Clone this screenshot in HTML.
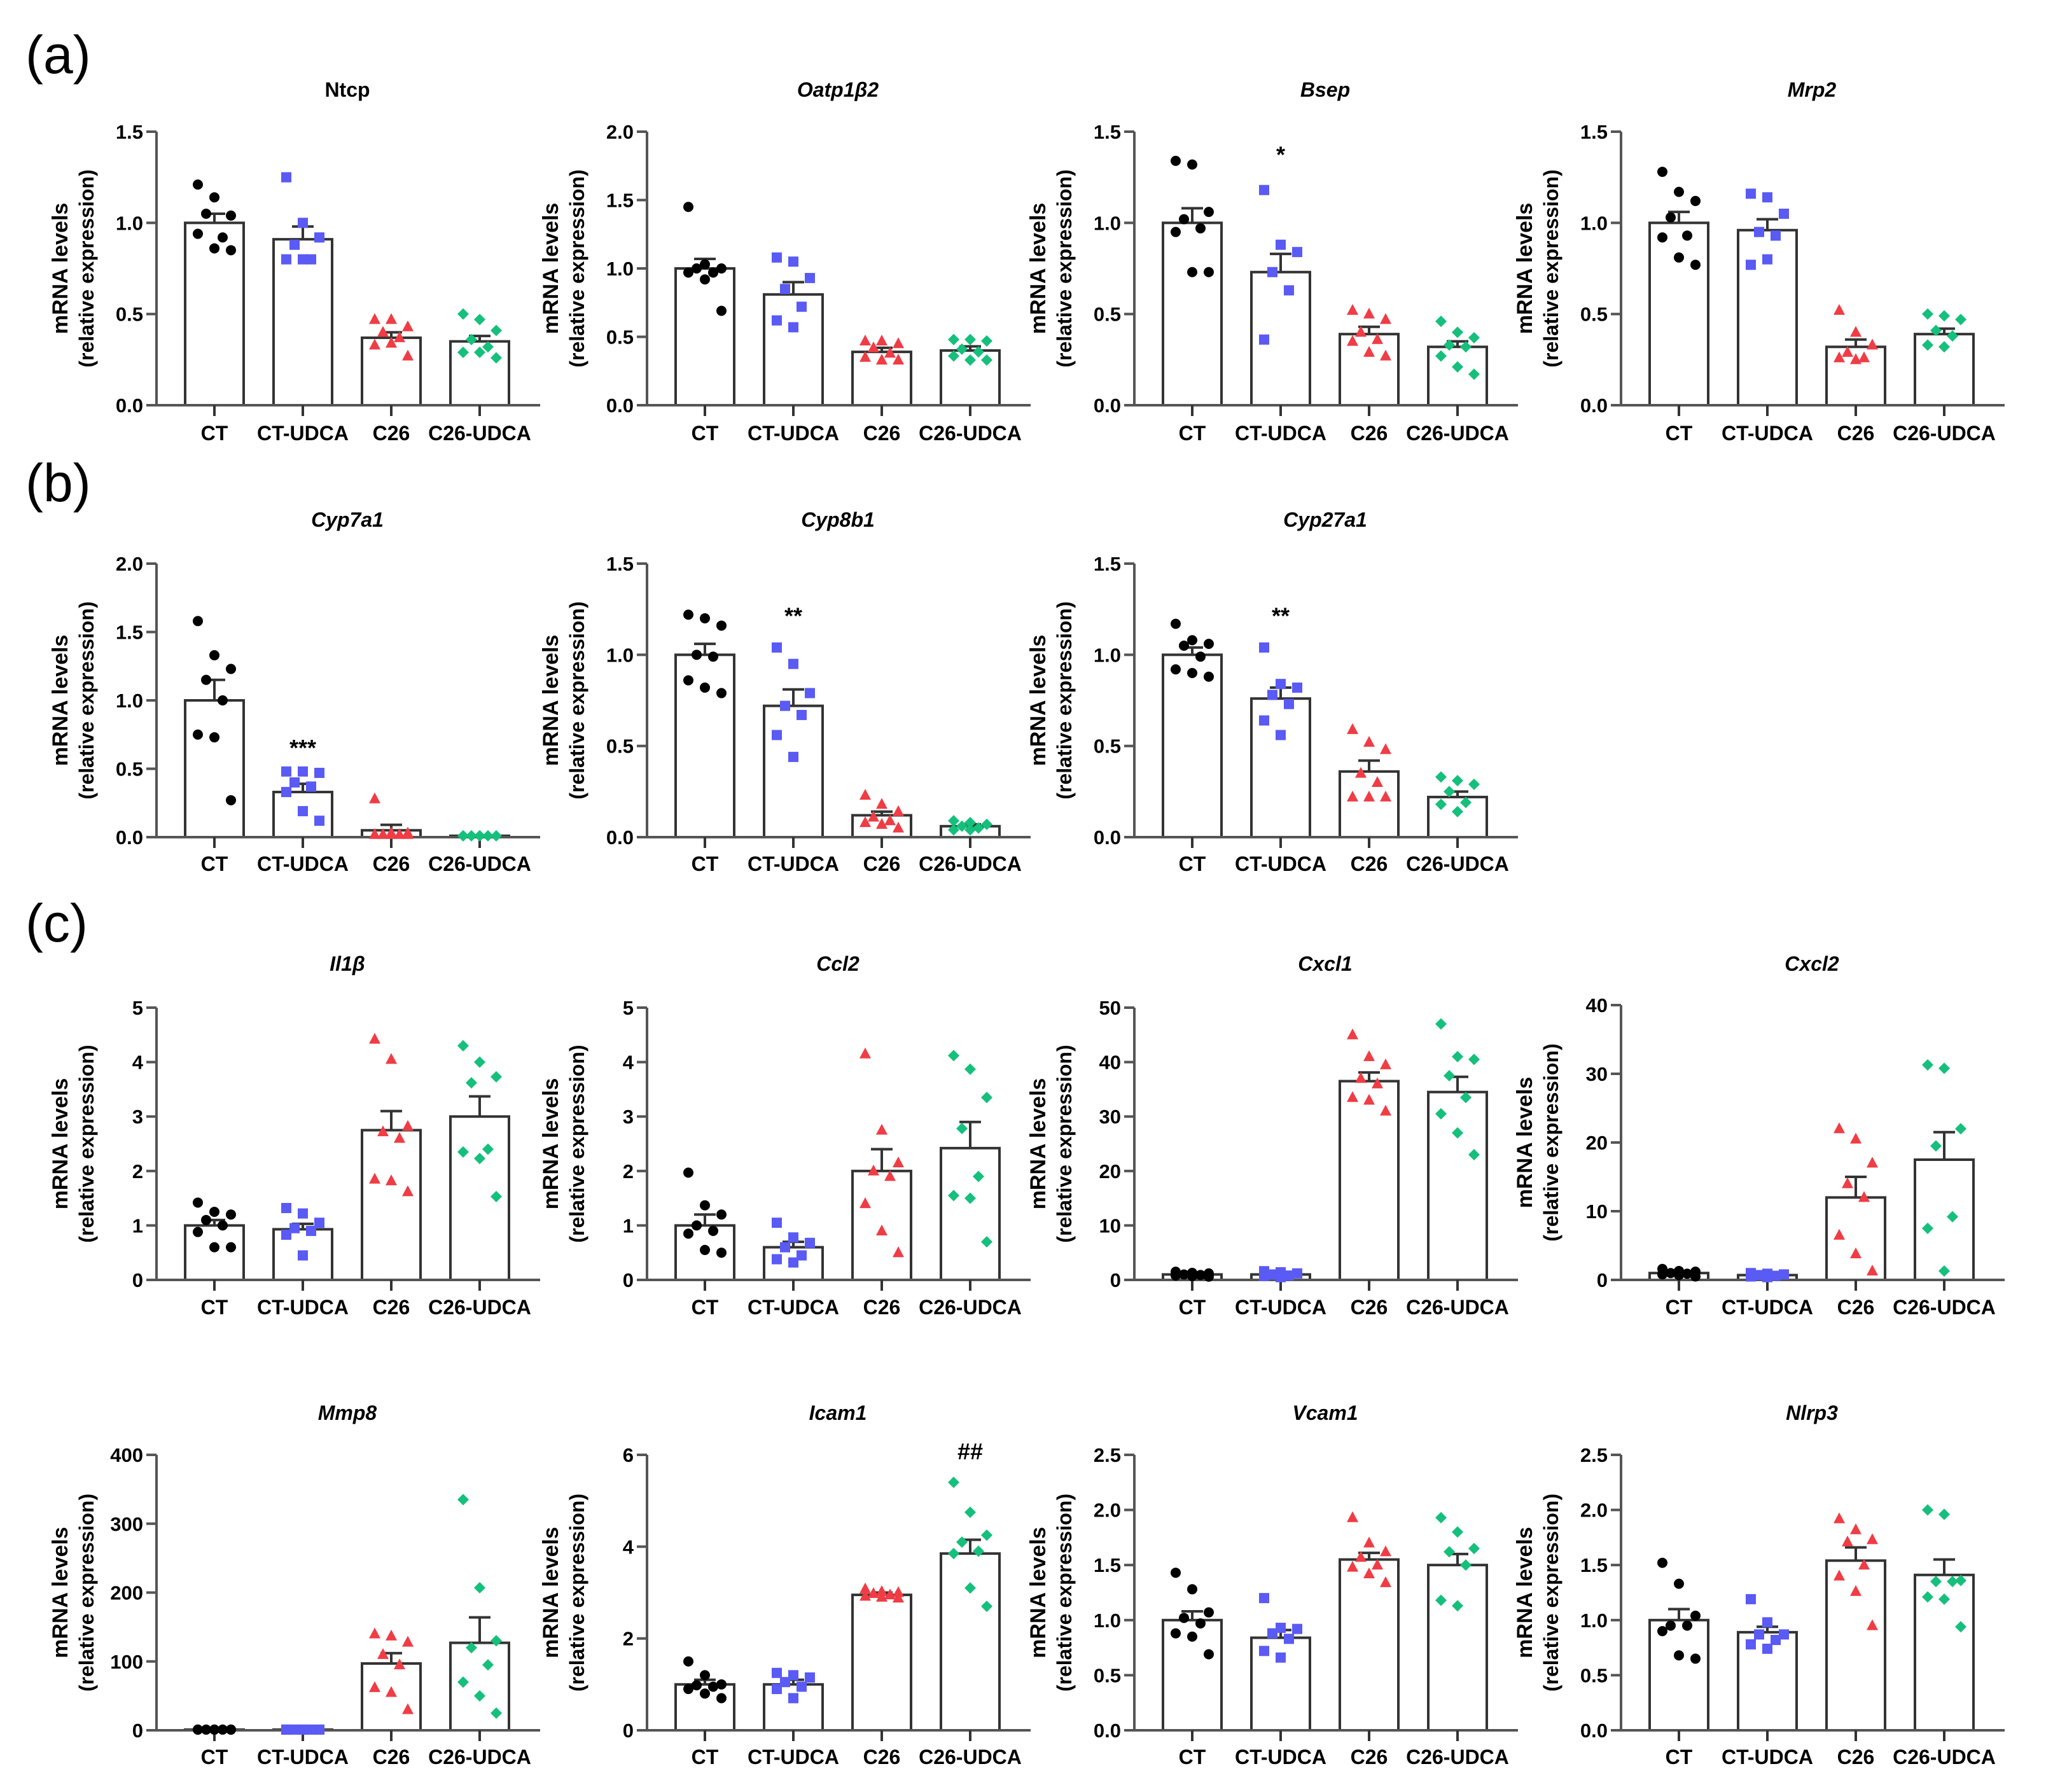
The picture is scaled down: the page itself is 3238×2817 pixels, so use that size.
<!DOCTYPE html>
<html><head><meta charset="utf-8">
<style>
html,body{margin:0;padding:0;background:#fff;}
svg{display:block;}
text{font-family:"Liberation Sans",Arial,sans-serif;}
</style></head>
<body>
<svg id="fig" width="3238" height="2817" viewBox="0 0 3238 2817" xmlns="http://www.w3.org/2000/svg">
<rect width="3238" height="2817" fill="#fff"/>
<text x="40" y="115" font-size="84">(a)</text>
<text x="40" y="788" font-size="84">(b)</text>
<text x="40" y="1480" font-size="84">(c)</text>
</svg>
<script>
const categories = ["CT","CT-UDCA","C26","C26-UDCA"];
const titles = ["Ntcp","Oatp1β2","Bsep","Mrp2","Cyp7a1","Cyp8b1","Cyp27a1","Il1β","Ccl2","Cxcl1","Cxcl2","Mmp8","Icam1","Vcam1","Nlrp3"];
const italicTitle = [false,true,true,true,true,true,true,true,true,true,true,true,true,true,true];
const yMaxes = [1.5,2.0,1.5,1.5,2.0,1.5,1.5,5,5,50,40,400,6,2.5,2.5];
const yStepS = [0.5,0.5,0.5,0.5,0.5,0.5,0.5,1,1,10,10,100,2,0.5,0.5];
const tickDecimals = [1,1,1,1,1,1,1,0,0,0,0,0,0,1,1];
const means = [
 [1.0,0.91,0.37,0.35],[1.0,0.81,0.39,0.40],[1.0,0.73,0.39,0.32],[1.0,0.96,0.32,0.39],
 [1.0,0.33,0.05,0.01],[1.0,0.72,0.12,0.06],[1.0,0.76,0.36,0.22],
 [1.0,0.93,2.75,3.0],[1.0,0.6,2.0,2.42],[1.0,1.0,36.5,34.5],[1.0,0.7,12,17.5],
 [1,1,97,127],[1.0,1.0,2.95,3.85],[1.0,0.84,1.55,1.5],[1.0,0.89,1.54,1.41]];
const sems = [
 [0.05,0.07,0.03,0.03],[0.07,0.09,0.03,0.03],[0.08,0.1,0.04,0.03],[0.06,0.06,0.04,0.03],
 [0.15,0.06,0.04,0.003],[0.06,0.09,0.02,0.01],[0.04,0.06,0.06,0.03],
 [0.1,0.1,0.35,0.37],[0.2,0.1,0.4,0.48],[0.1,0.1,1.6,2.8],[0.1,0.05,3,4],
 [0.1,0.1,15,37],[0.1,0.1,0.05,0.3],[0.08,0.07,0.06,0.1],[0.1,0.05,0.12,0.14]];
const pointsCT = [
 [1.21,1.14,1.04,1.05,0.92,0.94,0.86,0.85],[1.45,1.03,1.0,1.0,0.97,0.97,0.92,0.69],[1.34,1.32,1.06,1.02,0.97,0.95,0.73,0.73],[1.28,1.17,1.12,1.03,0.93,0.92,0.81,0.77],
 [1.58,1.33,1.23,1.15,1.0,0.75,0.73,0.27],[1.22,1.2,1.16,1.0,0.99,0.86,0.82,0.79],[1.17,1.08,1.06,1.05,0.99,0.92,0.9,0.88],
 [1.42,1.25,1.2,1.1,1.0,0.88,0.6,0.6],[1.97,1.37,1.2,1.0,0.9,0.85,0.55,0.5],[1.5,1.3,1.2,1.0,0.9,0.8,0.7,0.6],[1.6,1.3,1.2,1.0,0.9,0.8,0.7,0.5],
 [1,1,1,1,1,1,1,1],[1.5,1.2,1.0,0.98,0.95,0.9,0.8,0.7],[1.43,1.28,1.07,1.02,0.97,0.88,0.85,0.69],[1.52,1.33,1.04,0.95,0.95,0.9,0.68,0.65]];
const pointsCTUDCA = [
 [1.25,1.0,0.92,0.88,0.8,0.8,0.8],[1.08,1.05,0.93,0.85,0.72,0.62,0.57],[1.18,0.88,0.84,0.73,0.63,0.36],[1.16,1.14,1.05,0.95,0.93,0.77,0.8],
 [0.48,0.48,0.47,0.4,0.37,0.33,0.19,0.12],[1.04,0.95,0.79,0.72,0.67,0.56,0.44],[1.04,0.84,0.82,0.78,0.73,0.64,0.56],
 [1.32,1.22,1.05,0.95,0.9,0.83,0.45],[1.05,0.78,0.68,0.6,0.45,0.38,0.32],[1.6,1.4,1.2,1.0,0.8,0.7,0.5],[1.0,0.9,0.8,0.7,0.6,0.5,0.4],
 [1,1,1,1,1,1,1],[1.25,1.2,1.15,1.05,0.95,0.9,0.7],[1.2,0.93,0.92,0.88,0.83,0.72,0.66],[1.19,0.98,0.87,0.87,0.82,0.78,0.74]];
const pointsC26 = [
 [0.47,0.47,0.43,0.4,0.37,0.33,0.34,0.27],[0.47,0.47,0.45,0.42,0.38,0.35,0.33,0.33],[0.52,0.5,0.47,0.4,0.36,0.35,0.29,0.27],[0.52,0.4,0.33,0.29,0.26,0.26,0.25],
 [0.28,0.03,0.03,0.02,0.02,0.02,0.02,0.02],[0.23,0.18,0.14,0.11,0.09,0.08,0.07,0.05],[0.59,0.52,0.48,0.35,0.3,0.22,0.22,0.22],
 [4.42,4.05,2.82,2.72,2.6,1.85,1.82,1.62],[4.15,2.75,2.15,2.0,1.9,1.4,0.9,0.5],[45,41,39.5,37,36,33.5,33,31],[22,20.5,17,14,12,6.5,3.8,1.3],
 [140,137,128,110,95,62,55,30],[3.08,3.02,3.0,2.98,2.95,2.92,2.9,2.88],[1.93,1.7,1.62,1.57,1.5,1.48,1.42,1.34],[1.92,1.82,1.73,1.71,1.5,1.4,1.26,0.95]];
const pointsC26UDCA = [
 [0.5,0.47,0.41,0.36,0.32,0.29,0.29,0.26],[0.48,0.48,0.47,0.41,0.39,0.36,0.33,0.33],[0.46,0.4,0.37,0.33,0.32,0.27,0.21,0.17],[0.5,0.49,0.47,0.41,0.38,0.33,0.32],
 [0.01,0.01,0.01,0.01,0.01,0.01,0.01],[0.09,0.08,0.07,0.06,0.05,0.04,0.04],[0.33,0.31,0.29,0.25,0.19,0.18,0.14],
 [4.3,4.0,3.73,3.62,2.4,2.35,2.23,1.53],[4.12,3.87,3.35,2.78,1.9,1.55,1.5,0.7],[47,41,40.5,37.5,33.5,30.5,27,23],[31.3,30.8,22,19.5,9.2,7.5,1.3],
 [335,207,130,120,95,70,50,25],[5.4,4.75,4.25,4.1,3.9,3.85,3.1,2.7],[1.93,1.8,1.65,1.62,1.5,1.18,1.13],[2.0,1.96,1.36,1.35,1.35,1.21,1.19,0.94]];
const annotText = ["","","*","","***","**","**","","","","","","##","",""];
const annotValue = [0,0,1.38,0,0.66,1.22,1.22,0,0,0,0,0,6.1,0,0];
const annotGroup = [1,1,1,1,1,1,1,1,1,1,1,1,3,1,1];

// layout
const colX = [246,1017,1783,2548];
const rows = [{top:207,zero:637,title:152,lab:692},{top:886,zero:1316,title:828,lab:1369},{top:1584,zero:2012,title:1526,lab:2066},{top:2287,zero:2720,title:2232,lab:2773}];
const panelPos = [[0,0],[0,1],[0,2],[0,3],[1,0],[1,1],[1,2],[2,0],[2,1],[2,2],[2,3],[3,0],[3,1],[3,2],[3,3]];
const colors = ["#000000","#5a5af5","#f03c44","#14c07c"];
const groupPts = [pointsCT,pointsCTUDCA,pointsC26,pointsC26UDCA];
const jit = [-26,0,26,-13,13,-26,0,26];
const NS="http://www.w3.org/2000/svg";
const svg=document.getElementById('fig');
function mk(tag,attrs,parent){const e=document.createElementNS(NS,tag);for(const k in attrs)e.setAttribute(k,attrs[k]);(parent||svg).appendChild(e);return e;}

titles.forEach((t,p)=>{
  const [r,c]=panelPos[p];
  const x0=colX[c], R=rows[r];
  const yTop=(r===2&&c===3)?R.top-4:R.top;
  const yMax=yMaxes[p];
  const ys=v=>R.zero-(v/yMax)*(R.zero-yTop);
  const xc=i=>x0+91+i*139;
  const g=mk('g',{});
  
  
  const tt=mk('text',{x:x0+300,y:R.title,'font-size':32,'font-weight':'bold','text-anchor':'middle','font-style':italicTitle[p]?'italic':'normal'},g);
  tt.textContent=t;
  
  
  const yl=mk('text',{transform:`translate(${x0-140},${(R.zero+yTop)/2}) rotate(-90)`,'font-size':34,'font-weight':'bold','text-anchor':'middle'},g);
  yl.textContent='mRNA levels';
  
  
  const yl2=mk('text',{transform:`translate(${x0-99},${(R.zero+yTop)/2}) rotate(-90)`,'font-size':32,'font-weight':'bold','text-anchor':'middle'},g);
  yl2.textContent='(relative expression)';
  
  
  for(let i=0;i<4;i++){
    const b=mk('rect',{x:xc(i)-46,y:ys(means[p][i]),width:92,height:R.zero-ys(means[p][i]),fill:'#fff',stroke:'#333','stroke-width':4},g);
    
    
    const ye=ys(means[p][i]+sems[p][i]);
    const eb=mk('path',{d:`M${xc(i)},${ys(means[p][i])}V${ye}M${xc(i)-17},${ye}H${xc(i)+17}`,stroke:'#333','stroke-width':4,fill:'none'},g);
    
    
  }
  const ax=mk('path',{d:`M${x0},${yTop}V${R.zero}H${x0+603}`,stroke:'#555','stroke-width':4,fill:'none'},g);
  
  
  for(let v=0;v<=yMax+1e-9;v+=yStepS[p]){
    const y=ys(v);
    const tk=mk('line',{x1:x0-16,x2:x0,y1:y,y2:y,stroke:'#555','stroke-width':4},g);
    
    
    const tl=mk('text',{x:x0-21,y:y+11,'font-size':31,'font-weight':'bold','text-anchor':'end'},g);
    tl.textContent=v.toFixed(tickDecimals[p]);
    
    
  }
  for(let i=0;i<4;i++){
    const tk=mk('line',{x1:xc(i),x2:xc(i),y1:R.zero,y2:R.zero+17,stroke:'#333','stroke-width':4},g);
    
    
    const cl=mk('text',{x:xc(i),y:R.lab,'font-size':32,'font-weight':'bold','text-anchor':'middle'},g);
    cl.textContent=categories[i];
    
    
  }
  for(let i=0;i<4;i++){
    groupPts[i][p].forEach((v,k)=>{
      const x=xc(i)+jit[k%jit.length], y=ys(v), col=colors[i];
      let m;
      if(i===0) m=mk('circle',{cx:x,cy:y,r:8,fill:col},g);
      else if(i===1) m=mk('rect',{x:x-8,y:y-8,width:16,height:16,fill:col},g);
      else if(i===2) m=mk('path',{d:`M${x},${y-10}L${x+9},${y+7}L${x-9},${y+7}Z`,fill:col},g);
      else m=mk('path',{d:`M${x},${y-9}L${x+9},${y}L${x},${y+9}L${x-9},${y}Z`,fill:col},g);
      
      
    });
  }
  if(annotText[p]){
    const a=mk('text',{x:xc(annotGroup[p]),y:ys(annotValue[p])+14,'font-size':36,'font-weight':'bold','text-anchor':'middle'},g);
    a.textContent=annotText[p];
    
    
  }
});
</script>
</body></html>
